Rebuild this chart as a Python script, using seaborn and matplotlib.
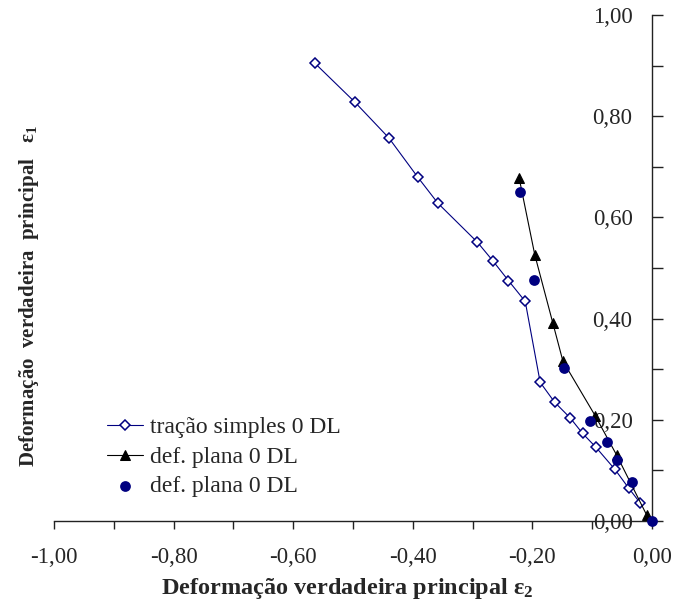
#!/usr/bin/env python3

import numpy as np
import pandas as pd
import matplotlib as mpl
mpl.use('Agg')
import matplotlib.pyplot as plt
from matplotlib.ticker import MultipleLocator, FuncFormatter
import seaborn as sns

# tracao simples 0 DL (open diamonds, blue line)
e2_tracao = [-0.564, -0.497, -0.440, -0.392, -0.358, -0.292, -0.266, -0.240,
             -0.212, -0.187, -0.163, -0.137, -0.116, -0.094, -0.062, -0.039, -0.020]
e1_tracao = [0.905, 0.828, 0.757, 0.680, 0.628, 0.551, 0.514, 0.475,
             0.434, 0.274, 0.235, 0.204, 0.173, 0.146, 0.102, 0.065, 0.036]

# def. plana 0 DL (triangles, black line)
e2_plana = [-0.222, -0.196, -0.166, -0.149, -0.095, -0.059, -0.009]
e1_plana = [0.677, 0.526, 0.392, 0.316, 0.208, 0.130, 0.012]

# def. plana 0 DL (filled circles)
e2_plana_b = [-0.221, -0.198, -0.147, -0.104, -0.076, -0.059, -0.033, 0.0]
e1_plana_b = [0.650, 0.477, 0.302, 0.198, 0.157, 0.121, 0.078, 0.0]

labels = ['tração simples 0 DL', 'def. plana 0 DL', 'def. plana 0 DL']

sns.set_style('white')
plt.rcParams['font.family'] = ['Liberation Serif', 'DejaVu Serif']
plt.rcParams['mathtext.fontset'] = 'custom'
plt.rcParams['mathtext.rm'] = 'Liberation Serif'
plt.rcParams['mathtext.it'] = 'Liberation Serif:italic'
plt.rcParams['mathtext.bf'] = 'Liberation Serif:bold'
navy = '#000080'

fig = plt.figure(figsize=(6.73, 6.05), dpi=100)
ax = fig.add_axes([54/673, 84/605, 598/673, 506/605])

sns.lineplot(x=e2_tracao, y=e1_tracao, sort=False, estimator=None, ax=ax,
             color=navy, lw=0.8, marker='D', markersize=5.5,
             markerfacecolor='white', markeredgecolor=navy, markeredgewidth=1.1,
             label=labels[0], clip_on=False)
sns.lineplot(x=e2_plana, y=e1_plana, sort=False, estimator=None, ax=ax,
             color='black', lw=0.8, marker='^', markersize=7,
             markerfacecolor='black', markeredgecolor='black',
             label=labels[1], clip_on=False)
sns.scatterplot(x=e2_plana_b, y=e1_plana_b, ax=ax, color=navy, s=60,
                edgecolor=navy, linewidth=0, label=labels[2], clip_on=False,
                zorder=5)

ax.set_xlim(-1.0, 0.0)
ax.set_ylim(0.0, 1.0)

for s in ['top', 'right']:
    ax.spines[s].set_visible(False)
ax.spines['left'].set_position(('data', 0))
for s in ['left', 'bottom']:
    ax.spines[s].set_color('#222222')
    ax.spines[s].set_linewidth(1.0)

fmt = FuncFormatter(lambda v, p: f"{v:.2f}".replace('.', ','))
ax.xaxis.set_major_locator(MultipleLocator(0.2))
ax.xaxis.set_minor_locator(MultipleLocator(0.1))
ax.yaxis.set_major_locator(MultipleLocator(0.2))
ax.yaxis.set_minor_locator(MultipleLocator(0.1))
ax.xaxis.set_major_formatter(fmt)
ax.yaxis.set_major_formatter(fmt)

ax.tick_params(axis='x', which='both', direction='out', length=6, width=1,
               bottom=True, color='#222222', labelsize=16.5, pad=13)
ax.tick_params(axis='y', which='both', direction='in', length=8, width=1,
               left=True, color='#222222', labelsize=16.5, pad=14)

ax.set_xlabel(r'Deformação verdadeira principal $\mathbf{\varepsilon_2}$',
              fontsize=17.5, fontweight='bold')
ax.xaxis.set_label_coords(0.491, -0.108)
ax.set_ylabel(r'Deformação  verdadeira  principal   $\mathbf{\varepsilon_1}$',
              fontsize=15, fontweight='bold')
ax.yaxis.set_label_coords(-0.022, 0.445)

ax.legend(loc='lower left', bbox_to_anchor=(0.073, 0.028), frameon=False,
          fontsize=17, handlelength=1.5, handletextpad=0.3, labelspacing=0.34,
          borderaxespad=0)

fig.savefig('out.png', dpi=100)
